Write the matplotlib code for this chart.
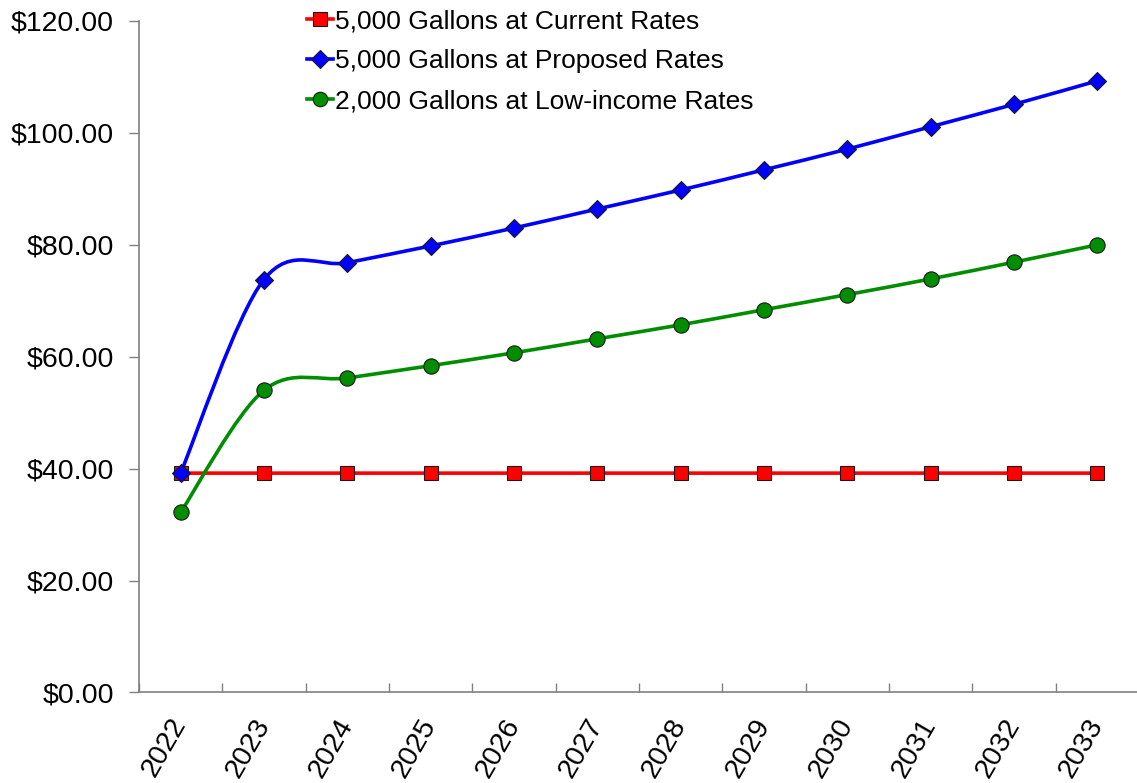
import numpy as np
import matplotlib
matplotlib.use("Agg")
import matplotlib.pyplot as plt
from matplotlib.path import Path
from matplotlib.patches import PathPatch
from matplotlib.lines import Line2D
from matplotlib.ticker import FuncFormatter, MultipleLocator

plt.rcParams['font.family'] = ['Liberation Sans', 'DejaVu Sans']

years = ['2022', '2023', '2024', '2025', '2026', '2027',
         '2028', '2029', '2030', '2031', '2032', '2033']
current_5000 = [39.2, 39.2, 39.2, 39.2, 39.2, 39.2,
                39.2, 39.2, 39.2, 39.2, 39.2, 39.2]
proposed_5000 = [39.2, 73.8, 76.8, 79.8, 83.0, 86.4,
                 89.8, 93.4, 97.1, 101.1, 105.1, 109.3]
lowincome_2000 = [32.2, 54.0, 56.2, 58.4, 60.7, 63.2,
                  65.7, 68.4, 71.1, 73.9, 76.9, 80.0]

series = [
    ("5,000 Gallons at Current Rates", current_5000, '#FF0000', 's', 10),
    ("5,000 Gallons at Proposed Rates", proposed_5000, '#0000FF', 'D', 9.5),
    ("2,000 Gallons at Low-income Rates", lowincome_2000, '#008E00', 'o', 11),
]


def smooth_path(x, y):
    """Cubic Bezier path through the points (spreadsheet-style smoothing)."""
    pts = np.column_stack([x, y]).astype(float)
    n = len(pts)
    verts = [pts[0]]
    codes = [Path.MOVETO]
    for i in range(n - 1):
        p0 = pts[i - 1] if i > 0 else pts[i]
        p1 = pts[i]
        p2 = pts[i + 1]
        p3 = pts[i + 2] if i + 2 < n else pts[i + 1]
        c1 = p1 + (p2 - p0) / 6.0
        c2 = p2 - (p3 - p1) / 6.0
        verts += [c1, c2, p2]
        codes += [Path.CURVE4] * 3
    return Path(verts, codes)


fig = plt.figure(figsize=(11.37, 7.83), dpi=100)
ax = fig.add_axes([0.1222, 0.1156, 0.8795, 0.8576])

x = np.arange(len(years))
handles = []
for label, vals, color, marker, ms in series:
    patch = PathPatch(smooth_path(x, vals), facecolor='none', edgecolor=color,
                      lw=2.6, zorder=2, capstyle='round')
    ax.add_patch(patch)
    ax.plot(x, vals, linestyle='none', marker=marker, markersize=ms,
            markerfacecolor=color, markeredgecolor='#1a1a1a',
            markeredgewidth=0.8, zorder=3, clip_on=False)
    handles.append(Line2D([], [], color=color, lw=2.6, marker=marker,
                          markersize=ms * 0.95, markerfacecolor=color,
                          markeredgecolor='#1a1a1a', markeredgewidth=0.8,
                          label=label))

ax.set_xlim(-0.5, len(years) - 0.5)
ax.set_ylim(0, 120)
ax.yaxis.set_major_locator(MultipleLocator(20))
ax.yaxis.set_major_formatter(FuncFormatter(lambda v, p: f"${v:,.2f}"))

ax.set_xticks(np.arange(len(years) + 1) - 0.5)
ax.set_xticklabels([])
ax.set_xticks(x, minor=True)
ax.set_xticklabels(years, minor=True, rotation=60, ha='right',
                   va='center', rotation_mode='anchor', fontsize=20.5)
ax.tick_params(axis='x', which='minor', length=0, pad=20)
ax.tick_params(axis='x', which='major', direction='in', length=6.5,
               width=1, color='#808080')
ax.tick_params(axis='y', direction='out', length=7.5, width=1,
               color='#808080', labelsize=20.5, pad=10.5)

for side in ['top', 'right']:
    ax.spines[side].set_visible(False)
for side in ['left', 'bottom']:
    ax.spines[side].set_color('#808080')
    ax.spines[side].set_linewidth(1.2)

fig.legend(handles=handles, loc='upper left',
           bbox_to_anchor=(0.27, 0.988), bbox_transform=fig.transFigure,
           frameon=False, fontsize=19,
           handlelength=1.0, handletextpad=0.08, labelspacing=0.61,
           borderaxespad=0, borderpad=0)

fig.savefig("out.png", dpi=100)
